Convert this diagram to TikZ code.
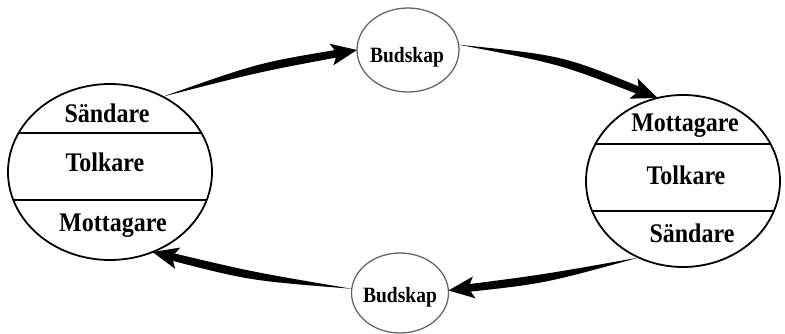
\documentclass[tikz,border=0pt]{standalone}
\usepackage{fontspec}
\setmainfont{Liberation Serif}
\usetikzlibrary{shapes.geometric,calc}
\newcommand\tallbox[1]{\scalebox{1}[1.12]{#1}}
\tikzset{
  role/.style={ellipse, draw=black, line width=1.8pt, outer sep=0pt, inner sep=0pt},
  msg/.style={ellipse, draw=black!60, line width=1.3pt, outer sep=0pt, inner sep=0pt},
  lbl/.style={anchor=base, inner sep=0pt, font=\fontsize{24}{24}\selectfont\bfseries},
  msglbl/.style={anchor=base, inner sep=0pt, font=\fontsize{19.5}{19.5}\selectfont\bfseries},
  sep/.style={line width=1.8pt},
}
\newcommand\taperarrow[4]{% start, end, bend, name
  \coordinate (#4m) at ($(#1)!0.5!(#2)$);
  \coordinate (#4c) at ($(#4m)!#3!90:(#2)$);
  \coordinate (#4b) at ($(#2)!26pt!(#4c)$);
  \coordinate (#4n) at ($(#2)!20pt!(#4c)$);
  \fill (#1) .. controls ($(#4c)!4.5pt!90:(#2)$) .. ($(#4n)!3.8pt!90:(#2)$)
     -- ($(#4n)!3.8pt!-90:(#2)$) .. controls ($(#4c)!4.5pt!-90:(#2)$) .. (#1) -- cycle;
  \fill (#2) -- ($(#4b)!11pt!90:(#2)$) -- (#4n) -- ($(#4b)!11pt!-90:(#2)$) -- cycle;
}
\begin{document}
\begin{tikzpicture}[x=1pt,y=-1pt]
\useasboundingbox (0,0) rectangle (785,334);
% left person
\node[role, minimum width=204pt, minimum height=176pt,
  path picture={
    \draw[sep] ([yshift=39pt]path picture bounding box.west) -- ([yshift=39pt]path picture bounding box.east);
    \draw[sep] ([yshift=-28pt]path picture bounding box.west) -- ([yshift=-28pt]path picture bounding box.east);
  }] (L) at (110,172) {};
\node[lbl] (L1) at (107,123) {\tallbox{Sändare}};
\node[lbl] (L2) at (105,172) {\tallbox{Tolkare}};
\node[lbl] (L3) at (113,231) {\tallbox{Mottagare}};
% right person
\node[role, minimum width=194pt, minimum height=172pt,
  path picture={
    \draw[sep] ([yshift=37pt]path picture bounding box.west) -- ([yshift=37pt]path picture bounding box.east);
    \draw[sep] ([yshift=-30pt]path picture bounding box.west) -- ([yshift=-30pt]path picture bounding box.east);
  }] (R) at (683,181) {};
\node[lbl] (R1) at (685,132) {\tallbox{Mottagare}};
\node[lbl] (R2) at (686,185) {\tallbox{Tolkare}};
\node[lbl] (R3) at (692,242) {\tallbox{Sändare}};
% messages
\node[msg, minimum width=102pt, minimum height=84pt] (T) at (408,50) {};
\node[msglbl] (T1) at (407,63) {\tallbox{Budskap}};
\node[msg, minimum width=97pt, minimum height=80pt] (B) at (400,293) {};
\node[msglbl] (B1) at (400,302) {\tallbox{Budskap}};
% arrows
\taperarrow{L.55}{T.west}{6pt}{a}
\taperarrow{T.6}{R.107}{12pt}{b}
\taperarrow{R.240}{B.3}{5pt}{c}
\taperarrow{B.175}{L.298}{6pt}{d}
\end{tikzpicture}
\end{document}
